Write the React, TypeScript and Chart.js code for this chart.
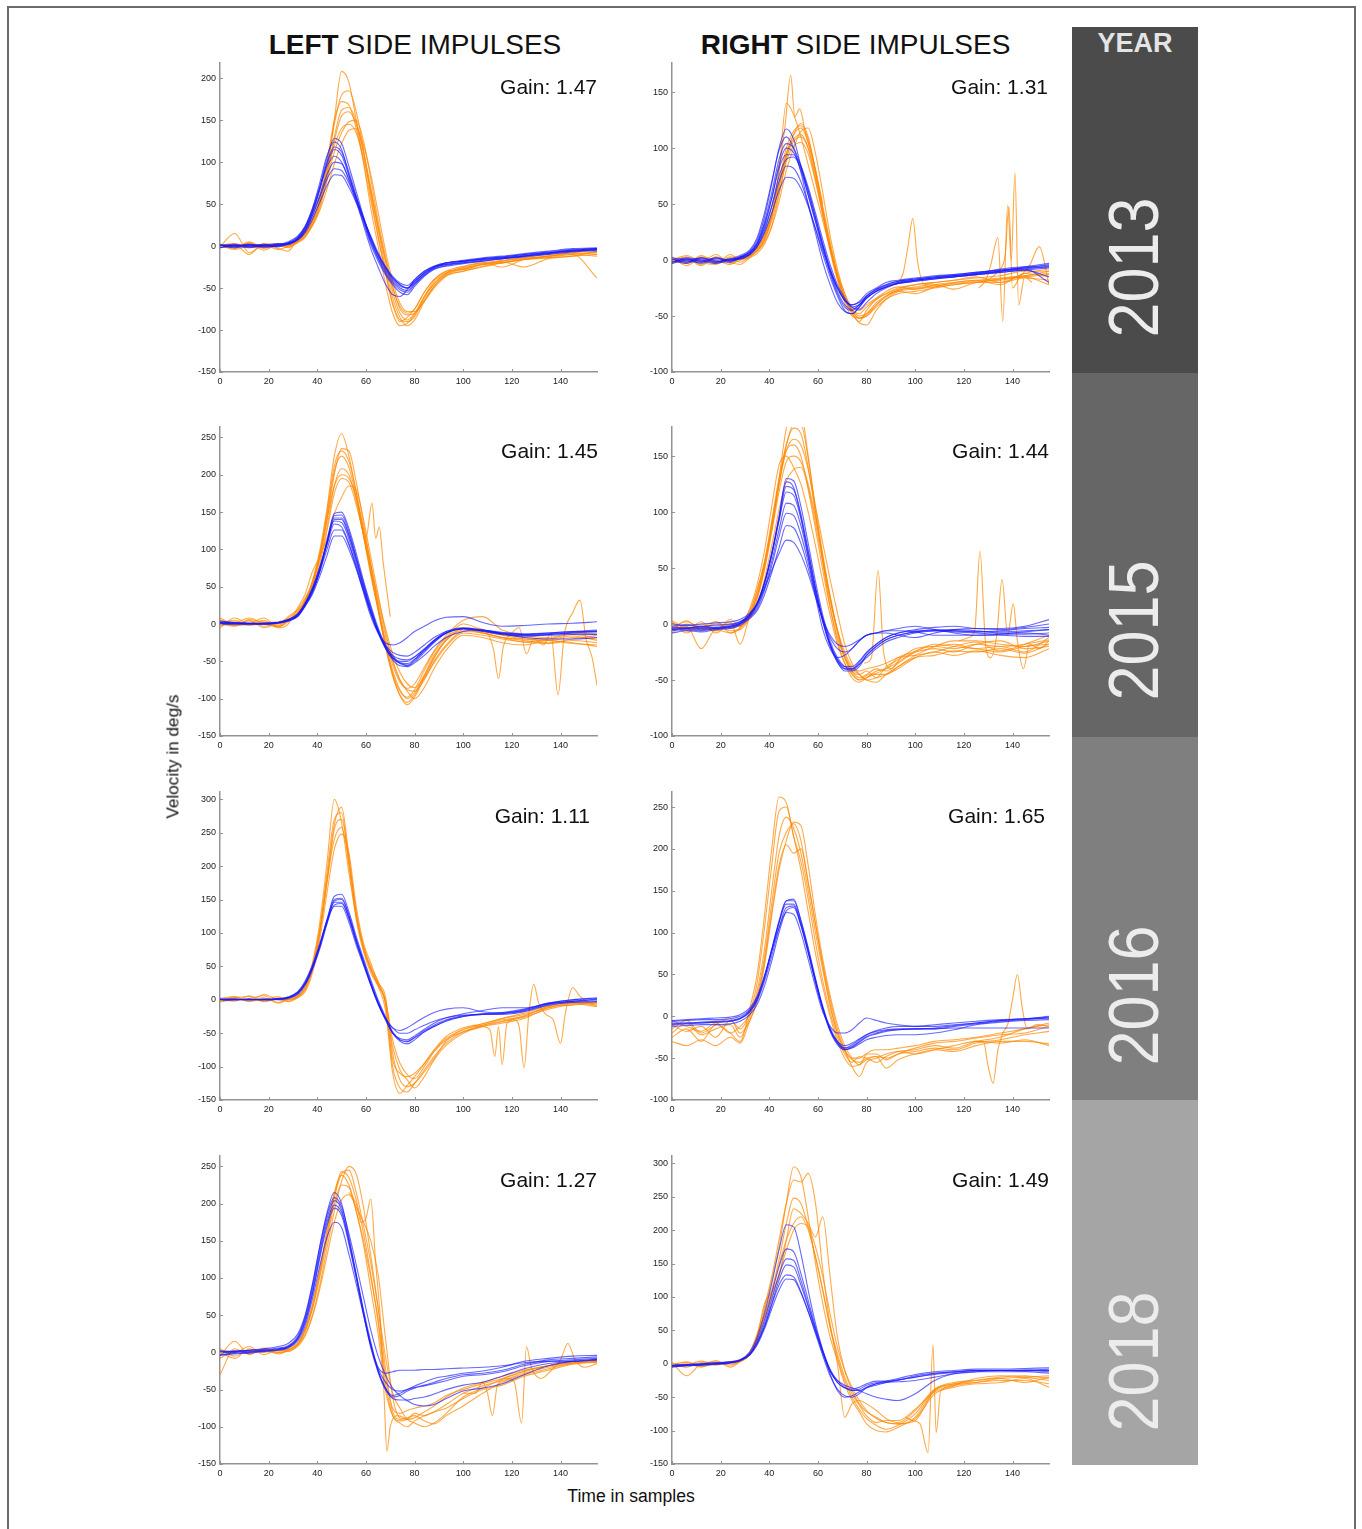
import React, { useEffect, useRef } from "react";
import { Chart, registerables } from "chart.js";

Chart.register(...registerables);

// ---------------- DATA ----------------
// Shared sample positions (time in samples) for the traces
const SAMPLE_X = [0, 6, 12, 18, 24, 28, 32, 35, 38, 41, 44, 47, 50, 53, 56, 59, 62, 65, 68, 71, 74, 77, 80, 84, 88, 93, 100, 108, 116, 125, 135, 145, 155];
const X_TICKS = [0, 20, 40, 60, 80, 100, 120, 140];
const X_MAX = 155;

const YEARS = ["2013", "2015", "2016", "2018"];
const GAINS_LEFT = ["1.47", "1.45", "1.11", "1.27"];
const GAINS_RIGHT = ["1.31", "1.44", "1.65", "1.49"];

const Y_TICKS_150_200 = [-150, -100, -50, 0, 50, 100, 150, 200];
const Y_TICKS_100_150 = [-100, -50, 0, 50, 100, 150];
const Y_TICKS_150_250 = [-150, -100, -50, 0, 50, 100, 150, 200, 250];
const Y_TICKS_150_300 = [-150, -100, -50, 0, 50, 100, 150, 200, 250, 300];
const Y_TICKS_100_250 = [-100, -50, 0, 50, 100, 150, 200, 250];

// ---- 2013 left ----
const L2013_BLUE = [
  [1, -1, 2, 0, 1, 4, 10, 22, 42, 70, 105, 128, 122, 95, 65, 35, 8, -12, -28, -40, -48, -50, -42, -33, -26, -22, -19, -16, -14, -11, -8, -6, -4],
  [-2, 1, 0, 2, -1, 3, 9, 20, 40, 68, 100, 118, 112, 88, 60, 32, 6, -14, -30, -42, -50, -53, -45, -35, -27, -24, -21, -18, -15, -12, -9, -5, -6],
  [0, 2, -1, 1, 2, 5, 12, 24, 44, 70, 95, 107, 100, 78, 52, 28, 2, -18, -34, -46, -55, -58, -48, -36, -28, -23, -20, -17, -15, -13, -10, -7, -5],
  [1, 0, 1, -1, 0, 3, 8, 18, 36, 60, 85, 100, 98, 80, 58, 34, 10, -10, -25, -38, -46, -50, -44, -32, -25, -21, -18, -15, -13, -10, -7, -4, -3],
  [-1, 0, 2, 1, 0, 2, 7, 16, 32, 52, 72, 85, 84, 70, 52, 32, 12, -8, -24, -36, -44, -47, -40, -30, -24, -20, -18, -16, -14, -12, -9, -6, -4],
  [0, -2, 1, 0, 2, 4, 11, 23, 45, 75, 108, 124, 115, 85, 55, 25, -3, -25, -45, -58, -60, -52, -40, -30, -24, -20, -18, -15, -13, -10, -8, -5, -3],
  [2, 0, -2, 1, 3, 2, 9, 20, 40, 66, 98, 115, 108, 84, 58, 31, 5, -15, -32, -44, -52, -55, -46, -34, -26, -20, -17, -14, -12, -9, -6, -3, -2],
  [-1, 1, 0, -1, 1, 3, 8, 18, 36, 58, 80, 92, 90, 75, 55, 33, 10, -10, -26, -38, -46, -50, -42, -32, -25, -22, -20, -18, -15, -12, -8, -5, -3],
];
const L2013_ORANGE = [
  [2, -3, 5, -2, 0, 3, 6, 15, 28, 50, 88, 150, 208, 195, 150, 100, 45, 0, -45, -80, -95, -92, -82, -60, -45, -32, -26, -22, -18, -15, -12, -10, -38],
  [-1, 15, -8, 2, -4, 0, 8, 18, 32, 55, 95, 145, 180, 185, 160, 115, 60, 12, -30, -68, -88, -90, -84, -62, -45, -33, -27, -21, -18, -14, -10, -9, -8],
  [0, 2, -10, 3, 1, -2, 5, 12, 30, 55, 100, 150, 172, 168, 140, 100, 55, 10, -32, -70, -90, -85, -75, -55, -40, -30, -24, -20, -25, -16, -12, -8, -10],
  [-2, 0, 3, -5, 2, 0, 4, 10, 25, 45, 80, 125, 155, 160, 145, 112, 70, 25, -18, -55, -80, -88, -80, -60, -42, -32, -25, -20, -17, -14, -13, -6, -8],
  [1, -4, 0, 2, -3, -6, 10, 22, 40, 60, 90, 120, 140, 145, 135, 105, 65, 22, -15, -50, -72, -80, -75, -55, -40, -30, -28, -22, -19, -25, -15, -12, -6],
  [0, 2, -2, 0, 3, 1, 6, 14, 26, 48, 78, 112, 135, 148, 150, 125, 80, 30, -12, -48, -75, -82, -80, -65, -48, -35, -30, -24, -20, -16, -14, -10, -12],
  [0, -2, 4, -3, 1, 2, 7, 16, 30, 52, 86, 130, 162, 165, 148, 112, 65, 20, -25, -62, -85, -95, -88, -66, -48, -34, -28, -22, -20, -16, -12, -8, -4],
  [1, 3, -1, -2, 2, -1, 5, 12, 24, 42, 68, 98, 122, 138, 140, 120, 85, 40, -5, -42, -68, -78, -78, -66, -50, -36, -30, -25, -20, -16, -14, -12, -10],
];
const L2013_SPIKES: number[][][] = [];

// ---- 2013 right ----
const R2013_BLUE = [
  [-2, 1, -3, 2, 0, 3, 8, 18, 38, 68, 100, 117, 108, 84, 58, 34, 10, -12, -30, -42, -45, -40, -32, -26, -22, -19, -17, -15, -14, -12, -8, -6, -5],
  [1, -2, 2, -1, -2, 2, 6, 14, 30, 55, 85, 100, 96, 80, 58, 35, 12, -10, -28, -40, -44, -40, -33, -27, -23, -20, -18, -16, -14, -12, -10, -8, -20],
  [-3, 0, 1, -2, 1, 1, 5, 12, 26, 48, 75, 90, 92, 82, 62, 38, 14, -8, -24, -36, -40, -38, -32, -26, -22, -19, -17, -15, -13, -11, -9, -7, -4],
  [0, -1, -2, 1, -1, 2, 6, 14, 28, 48, 70, 84, 82, 70, 50, 28, 5, -15, -32, -45, -48, -42, -34, -28, -24, -21, -19, -17, -15, -13, -10, -6, -3],
  [2, 0, -1, -3, 0, 1, 5, 12, 24, 42, 62, 74, 73, 64, 48, 28, 8, -10, -25, -36, -40, -37, -30, -25, -20, -18, -16, -14, -13, -11, -9, -7, -6],
  [-1, 2, 0, -2, 1, 4, 9, 20, 42, 70, 98, 110, 100, 78, 50, 24, -2, -22, -38, -46, -48, -42, -34, -28, -24, -20, -18, -16, -15, -13, -11, -9, -15],
  [0, -3, 2, -1, 1, 2, 7, 16, 34, 60, 90, 104, 100, 84, 62, 38, 14, -8, -25, -36, -42, -40, -34, -28, -24, -21, -18, -16, -14, -12, -10, -8, -6],
  [-2, 1, -1, 2, -1, 3, 7, 15, 32, 55, 82, 94, 94, 84, 65, 42, 18, -4, -22, -34, -42, -44, -38, -30, -25, -21, -19, -17, -15, -13, -11, -9, -7],
];
const R2013_ORANGE = [
  [3, -5, 2, -3, 5, 0, 3, 8, 18, 38, 80, 140, 130, 110, 85, 60, 35, 10, -15, -35, -48, -55, -45, -35, -30, -25, -22, -20, -18, -15, -20, -12, -8],
  [-2, 2, -5, 3, -2, -4, 2, 6, 14, 30, 58, 90, 112, 122, 110, 80, 45, 12, -15, -35, -45, -48, -42, -35, -30, -26, -22, -20, -18, -16, -14, -10, -10],
  [1, -3, 4, -2, 0, 3, 4, 10, 20, 38, 65, 95, 112, 118, 105, 78, 45, 14, -12, -30, -42, -45, -40, -34, -28, -24, -26, -22, -20, -18, -16, -14, -12],
  [-3, 0, -2, 5, -3, 0, 5, 12, 24, 42, 68, 95, 108, 112, 100, 72, 40, 8, -18, -38, -50, -52, -48, -38, -32, -28, -30, -24, -20, -18, -22, -12, -15],
  [0, 4, -2, -4, 2, -2, 3, 9, 18, 35, 60, 88, 102, 105, 95, 70, 40, 10, -15, -32, -44, -50, -48, -40, -33, -27, -24, -22, -26, -20, -18, -15, -22],
  [2, -2, 0, -3, 3, 2, 4, 8, 16, 30, 52, 80, 100, 115, 118, 95, 60, 22, -8, -30, -45, -52, -50, -42, -35, -30, -28, -25, -22, -20, -17, -14, -10],
  [0, 3, -4, 2, -1, 1, 3, 9, 20, 40, 70, 100, 115, 120, 108, 80, 48, 16, -12, -34, -46, -52, -50, -40, -32, -27, -25, -23, -21, -19, -17, -15, -13],
  [-1, -2, 3, 0, -4, 2, 5, 11, 22, 40, 66, 92, 106, 110, 100, 75, 42, 12, -14, -34, -47, -56, -58, -45, -35, -28, -26, -24, -22, -20, -20, -16, -18],
];
const R2013_SPIKES = [
  [[41, 40], [44, 80], [46.5, 120], [48.8, 165], [50.5, 128], [52.5, 135], [55, 112], [58, 90], [62, 50]],
  [[92, -22], [95, -12], [97, 12], [99, 37], [101, -2], [104, -22], [108, -20]],
  [[126, -25], [129, -18], [131, -5], [134, 20], [136, -55], [138, 49], [139.5, 0], [141, 78], [142.5, -40], [145, -15], [148, -20]],
  [[130, -18], [134, -10], [137, 5], [138.5, 48], [140, -25], [143, -15], [147, -5], [151, 12], [155, -22]],
];

// ---- 2015 left ----
const L2015_BLUE = [
  [2, 1, 0, 0, 1, 4, 11, 25, 45, 72, 112, 148, 150, 128, 95, 58, 25, -5, -28, -43, -52, -55, -48, -35, -22, -10, -5, -8, -12, -14, -12, -10, -8],
  [0, 0, 1, 0, 2, 5, 12, 26, 44, 72, 108, 142, 142, 120, 88, 52, 20, -8, -30, -45, -53, -56, -50, -38, -25, -12, -7, -10, -14, -16, -14, -12, -12],
  [3, 2, 1, 1, 2, 6, 13, 28, 48, 76, 110, 138, 136, 114, 82, 48, 15, -12, -32, -45, -50, -50, -44, -33, -22, -12, -6, -9, -12, -14, -13, -11, -9],
  [1, 0, 0, 1, 2, 5, 11, 24, 40, 64, 92, 118, 118, 100, 74, 44, 14, -10, -28, -38, -42, -43, -38, -28, -18, -10, -6, -9, -13, -16, -15, -14, -14],
  [4, 2, 1, 0, 2, 6, 14, 28, 48, 76, 106, 134, 130, 108, 76, 42, 10, -12, -25, -28, -25, -18, -10, -3, 4, 9, 10, 2, -3, -2, 0, 1, 3],
  [0, 0, 0, 0, 1, 4, 10, 24, 42, 70, 108, 145, 146, 124, 90, 55, 22, -8, -32, -48, -56, -57, -52, -42, -30, -18, -10, -8, -13, -18, -20, -20, -18],
  [1, 1, 0, 1, 2, 5, 12, 27, 46, 74, 110, 140, 140, 118, 86, 50, 18, -10, -32, -46, -52, -53, -47, -36, -24, -12, -6, -9, -13, -15, -14, -12, -10],
  [2, 1, 1, 0, 2, 5, 12, 26, 44, 70, 100, 126, 126, 106, 78, 46, 16, -10, -30, -42, -47, -48, -44, -34, -22, -12, -6, -8, -11, -13, -12, -10, -10],
];
const L2015_ORANGE = [
  [5, 2, 8, 0, -3, 5, 15, 30, 58, 98, 155, 225, 255, 225, 175, 120, 70, 20, -30, -70, -95, -105, -95, -70, -45, -20, -5, -10, -15, -20, -22, -18, -20],
  [-5, 8, 0, 3, -2, 10, 20, 35, 55, 90, 140, 200, 235, 232, 190, 135, 80, 25, -25, -62, -88, -100, -92, -68, -42, -22, -8, -12, -18, -22, -25, -20, -15],
  [3, -2, 5, -3, 0, 4, 12, 28, 52, 90, 145, 205, 225, 210, 170, 118, 65, 18, -28, -66, -90, -98, -88, -62, -38, -18, 0, -8, -14, -18, -20, -16, -22],
  [0, 5, -2, 2, 3, 8, 18, 32, 52, 85, 130, 185, 208, 200, 165, 118, 70, 22, -22, -55, -78, -86, -80, -58, -36, -15, 5, 10, -8, -15, -18, -12, -14],
  [8, 0, 4, -5, 2, 6, 14, 28, 48, 80, 125, 175, 195, 190, 160, 120, 78, 35, -5, -40, -65, -80, -85, -72, -52, -30, -12, -15, -20, -24, -26, -22, -25],
  [-3, 3, 0, 5, -5, 0, 22, 40, 70, 90, 115, 148, 170, 185, 180, 140, 90, 40, -10, -48, -75, -90, -100, -85, -60, -35, -15, -18, -25, -28, -22, -25, -30],
  [0, -3, 6, 2, -4, 3, 16, 32, 56, 94, 150, 212, 232, 218, 178, 125, 72, 20, -28, -68, -96, -108, -98, -72, -46, -22, -6, -12, -18, -24, -20, -14, -18],
  [4, -2, 0, 8, -4, 6, 15, 30, 55, 92, 140, 185, 200, 195, 170, 128, 80, 30, -15, -50, -75, -88, -90, -75, -50, -28, -10, -12, -18, -20, -22, -26, -28],
];
const L2015_SPIKES = [
  [[57, 150], [60, 115], [62.5, 162], [64, 115], [65.5, 130], [67, 85], [70, 10]],
  [[106, -5], [110, -12], [112.5, -35], [114.5, -73], [116.5, -30], [120, -12], [123, -5], [126, -40], [129, -20], [133, -28], [136, -12], [139, -95], [141.5, -15], [145, 15], [148, 32], [150.5, -20], [153, -45], [155, -82]],
];

// ---- 2015 right ----
const R2015_BLUE = [
  [-5, -4, -3, -4, -2, 1, 8, 18, 36, 62, 95, 130, 128, 105, 72, 38, 8, -15, -30, -38, -40, -36, -30, -22, -16, -12, -8, -6, -5, -6, -8, -8, -10],
  [-2, -1, -2, -1, 0, 2, 9, 19, 37, 62, 92, 118, 115, 94, 64, 32, 4, -18, -34, -42, -42, -38, -28, -20, -14, -10, -7, -5, -6, -7, -6, -4, -3],
  [-6, -5, -6, -4, -3, 0, 6, 14, 30, 52, 78, 99, 97, 80, 55, 28, 2, -18, -32, -38, -38, -33, -25, -18, -12, -8, -5, -3, -2, -4, -5, -3, 0],
  [0, -1, 0, 1, 2, 4, 10, 18, 32, 48, 63, 75, 73, 62, 45, 24, 4, -12, -22, -25, -22, -15, -10, -8, -8, -10, -12, -8, -5, -4, -4, -2, 4],
  [-3, -4, -2, -3, -1, 2, 8, 18, 37, 64, 96, 127, 122, 96, 60, 25, -5, -22, -30, -28, -22, -15, -10, -8, -6, -4, -2, -5, -8, -10, -9, -7, -5],
  [-8, -6, -7, -5, -4, -1, 5, 12, 26, 46, 68, 88, 86, 72, 50, 26, 5, -10, -18, -20, -18, -14, -10, -8, -6, -6, -7, -10, -10, -10, -10, -11, -11],
  [-4, -3, -4, -3, -2, 1, 8, 18, 36, 62, 93, 123, 120, 98, 66, 33, 4, -18, -32, -40, -41, -36, -28, -20, -14, -10, -7, -6, -6, -7, -7, -6, -5],
  [-5, -4, -5, -4, -3, 0, 7, 16, 32, 56, 84, 108, 106, 88, 60, 30, 2, -20, -34, -40, -40, -34, -26, -18, -12, -8, -6, -6, -7, -8, -9, -9, -8],
];
const R2015_ORANGE = [
  [-5, -2, -22, -5, -8, -3, 10, 30, 55, 90, 130, 175, 195, 190, 150, 100, 55, 15, -15, -35, -48, -52, -48, -45, -45, -38, -28, -20, -15, -15, -18, -20, -15],
  [2, -8, 0, -5, 2, -18, 8, 25, 52, 85, 125, 160, 175, 170, 140, 98, 58, 22, -8, -30, -42, -48, -45, -40, -42, -35, -25, -18, -20, -22, -25, -20, -18],
  [-5, 3, -6, 2, -4, 0, 12, 30, 55, 88, 125, 155, 160, 150, 120, 85, 48, 15, -12, -30, -42, -45, -42, -48, -38, -32, -22, -20, -18, -22, -20, -25, -12],
  [0, -6, 2, -8, 0, -2, 14, 35, 65, 105, 142, 150, 140, 125, 100, 70, 38, 8, -18, -35, -45, -50, -48, -42, -40, -30, -25, -22, -25, -18, -15, -22, -20],
  [-8, 0, -4, 0, -6, -5, 5, 18, 40, 70, 102, 128, 138, 140, 122, 90, 55, 22, -5, -25, -38, -42, -40, -38, -35, -30, -28, -25, -20, -16, -24, -18, -10],
  [3, -3, -2, -6, 4, -2, 8, 24, 50, 85, 125, 155, 165, 160, 138, 105, 72, 40, 10, -18, -35, -45, -50, -48, -45, -40, -30, -25, -28, -24, -28, -30, -22],
  [-3, 2, -4, -6, 0, -2, 9, 26, 54, 92, 130, 160, 178, 178, 148, 104, 62, 25, -6, -30, -44, -50, -46, -44, -40, -34, -24, -20, -22, -18, -20, -18, -14],
  [1, -6, -3, 2, -8, -4, 6, 22, 48, 82, 118, 145, 150, 145, 125, 95, 60, 25, -5, -28, -40, -45, -50, -52, -45, -38, -30, -28, -24, -25, -22, -26, -18],
];
const R2015_SPIKES = [
  [[79, -35], [82, -30], [84.7, 48], [87, -25], [90, -40], [94, -30]],
  [[118, -15], [122, -12], [124.5, -5], [126.6, 65], [129, -20], [131, -30], [133.5, -10], [135.7, 40], [138, -10], [140.3, 18], [142, -15], [144.5, -40], [147, -18], [151, -22], [155, -15]],
];

// ---- 2016 left ----
const L2016_BLUE = [
  [0, 0, 1, 0, 1, 3, 10, 24, 48, 80, 120, 155, 158, 132, 95, 62, 30, 0, -25, -48, -60, -63, -56, -46, -38, -30, -24, -21, -20, -16, -6, -2, 1],
  [1, 0, 0, 1, 0, 2, 8, 22, 45, 76, 114, 148, 150, 126, 90, 58, 26, -3, -28, -50, -62, -66, -60, -48, -40, -32, -25, -22, -21, -17, -7, -3, -2],
  [0, 1, 0, 0, 2, 4, 12, 28, 52, 84, 118, 140, 140, 116, 82, 52, 22, -6, -28, -42, -50, -50, -45, -38, -32, -27, -23, -22, -22, -18, -8, -4, -3],
  [-1, 0, 1, 0, 1, 4, 12, 26, 50, 82, 120, 150, 152, 127, 90, 56, 24, -6, -28, -42, -46, -42, -35, -26, -19, -14, -12, -18, -20, -15, -5, 0, 2],
  [0, 0, 0, 1, 1, 3, 10, 24, 48, 80, 117, 146, 146, 122, 86, 54, 22, -6, -30, -50, -58, -60, -54, -44, -35, -27, -21, -16, -12, -12, -5, 0, 3],
  [1, 1, 0, 0, 1, 3, 10, 25, 48, 79, 115, 142, 144, 122, 88, 56, 24, -4, -28, -50, -60, -62, -57, -48, -40, -31, -25, -21, -19, -14, -6, -2, 0],
];
const L2016_ORANGE = [
  [2, 5, -3, 8, 0, -2, 5, 20, 55, 115, 205, 300, 265, 190, 125, 75, 45, 22, -5, -100, -132, -138, -125, -105, -85, -65, -48, -40, -35, -28, -12, -5, -8],
  [0, 3, 5, -2, 3, 0, 4, 15, 45, 100, 180, 262, 288, 215, 130, 78, 48, 25, 5, -80, -120, -130, -125, -108, -88, -62, -45, -38, -30, -25, -10, -3, -5],
  [-3, 0, 2, 6, -4, 2, 8, 22, 52, 105, 178, 240, 258, 205, 130, 80, 50, 28, -5, -90, -110, -115, -110, -95, -75, -55, -42, -36, -28, -22, -12, -6, -10],
  [0, 2, -2, 0, 5, -3, 3, 12, 40, 90, 160, 225, 248, 220, 140, 85, 55, 25, 0, -60, -95, -112, -118, -100, -78, -60, -48, -38, -32, -24, -10, -8, -3],
  [1, -2, 6, -3, 2, 0, 6, 18, 48, 105, 190, 270, 280, 200, 120, 72, 40, 20, -15, -110, -140, -128, -115, -96, -76, -58, -44, -36, -28, -20, -9, -4, -6],
  [-2, 4, 0, 3, -5, 1, 5, 16, 46, 98, 175, 255, 270, 210, 128, 78, 45, 22, -2, -70, -105, -120, -132, -115, -90, -68, -50, -40, -33, -26, -14, -7, -4],
];
const L2016_SPIKES = [
  [[104, -38], [108, -40], [111, -45], [113, -85], [114.5, -40], [116, -97], [118, -35], [121, -30], [123, -40], [125, -102], [127, -20], [129, 23], [131, -5], [134, -22], [137, -30], [140, -65], [142, -20], [145, 18], [148, 5], [152, -5], [155, -10]],
];

// ---- 2016 right ----
const R2016_BLUE = [
  [-10, -9, -8, -7, -6, -3, 6, 20, 45, 78, 112, 138, 140, 115, 82, 45, 12, -14, -30, -38, -36, -30, -24, -20, -17, -16, -15, -15, -12, -9, -6, -4, -2],
  [-6, -5, -4, -4, -3, 0, 8, 22, 48, 80, 112, 134, 134, 110, 76, 40, 8, -18, -34, -40, -37, -31, -25, -21, -18, -16, -15, -14, -11, -8, -5, -3, -1],
  [-12, -11, -10, -10, -9, -6, 2, 14, 36, 66, 100, 126, 130, 108, 76, 42, 10, -16, -30, -35, -32, -27, -22, -18, -16, -15, -15, -15, -14, -14, -14, -14, -14],
  [-5, -4, -3, -2, -1, 2, 10, 24, 48, 78, 106, 124, 122, 100, 68, 35, 5, -12, -20, -20, -16, -8, -2, -5, -8, -10, -12, -12, -10, -8, -5, -3, 0],
  [-8, -8, -7, -6, -5, -2, 7, 21, 46, 80, 114, 138, 138, 114, 80, 44, 10, -16, -32, -40, -38, -33, -28, -25, -23, -22, -22, -20, -16, -10, -7, -5, -4],
  [-9, -8, -8, -7, -6, -3, 5, 18, 42, 72, 105, 130, 132, 110, 78, 42, 9, -16, -32, -38, -34, -28, -22, -17, -14, -12, -12, -10, -8, -6, -4, -3, -2],
];
const R2016_ORANGE = [
  [-25, -15, -30, -10, -20, -30, 10, 50, 120, 200, 262, 255, 215, 175, 125, 75, 35, 0, -30, -50, -60, -58, -52, -48, -50, -45, -42, -38, -40, -32, -28, -22, -18],
  [-10, -18, -12, -25, -5, -15, 5, 40, 105, 180, 245, 250, 215, 185, 140, 88, 42, 5, -25, -45, -55, -48, -50, -55, -48, -42, -40, -35, -38, -30, -25, -15, -10],
  [-20, -8, -22, -15, -10, -25, 0, 30, 80, 150, 215, 238, 225, 195, 150, 100, 55, 12, -20, -40, -50, -50, -45, -45, -52, -45, -38, -32, -30, -26, -22, -20, -12],
  [-5, -12, -18, -8, -20, -12, 2, 25, 70, 135, 195, 220, 230, 210, 160, 110, 62, 20, -15, -40, -60, -72, -55, -50, -45, -42, -45, -40, -35, -30, -32, -28, -35],
  [-30, -35, -28, -35, -25, -32, -5, 20, 65, 125, 180, 205, 195, 200, 160, 110, 60, 15, -20, -42, -52, -55, -50, -48, -62, -52, -45, -40, -42, -35, -30, -30, -33],
  [-15, -5, -20, -10, -3, -20, -5, 18, 60, 120, 175, 210, 232, 228, 180, 120, 68, 25, -10, -35, -50, -58, -45, -40, -40, -38, -35, -30, -28, -25, -20, -15, -8],
];
const R2016_SPIKES = [
  [[124, -30], [128, -30], [130, -60], [132, -80], [134, -40], [136, -20], [138, -10], [140, 20], [142, 50], [144, 10], [146, -15], [150, -10], [155, -12]],
];

// ---- 2018 left ----
const L2018_BLUE = [
  [2, 1, 3, 4, 6, 9, 22, 48, 90, 142, 188, 215, 200, 155, 105, 55, 10, -26, -50, -60, -58, -52, -48, -45, -42, -38, -32, -30, -26, -18, -12, -10, -8],
  [0, 1, 2, 3, 5, 8, 20, 45, 85, 135, 180, 204, 192, 150, 102, 52, 6, -26, -48, -58, -55, -50, -47, -44, -40, -35, -30, -28, -24, -16, -10, -8, -6],
  [-3, -1, 0, 2, 4, 7, 18, 40, 78, 126, 170, 194, 184, 145, 100, 52, 10, -20, -28, -26, -24, -24, -24, -23, -23, -22, -21, -20, -18, -14, -12, -12, -10],
  [-4, -2, -1, 1, 3, 6, 16, 36, 72, 116, 155, 175, 168, 132, 92, 50, 8, -22, -40, -50, -52, -50, -45, -40, -35, -32, -28, -25, -20, -12, -8, -5, -4],
  [1, 2, 3, 5, 8, 12, 25, 50, 92, 142, 185, 208, 196, 160, 118, 74, 30, -5, -30, -48, -58, -65, -70, -72, -70, -62, -52, -48, -42, -30, -18, -12, -10],
  [0, 0, 1, 2, 4, 7, 19, 42, 80, 130, 175, 198, 188, 150, 105, 57, 14, -24, -48, -62, -64, -64, -62, -60, -56, -50, -44, -40, -32, -22, -15, -12, -9],
];
const L2018_ORANGE = [
  [5, -5, 3, 2, 0, 3, 10, 24, 50, 90, 140, 190, 230, 250, 240, 195, 130, 60, -20, -80, -90, -88, -85, -92, -96, -85, -72, -55, -40, -30, -22, -15, -12],
  [-5, 15, -3, 5, 2, 5, 14, 32, 65, 110, 160, 210, 243, 235, 205, 160, 105, 40, -40, -85, -95, -100, -92, -85, -80, -70, -55, -45, -38, -28, -20, -15, -10],
  [0, -8, 5, 0, 3, 4, 12, 30, 60, 108, 165, 215, 238, 225, 190, 150, 100, 45, -30, -75, -82, -78, -75, -72, -68, -58, -50, -42, -35, -25, -18, -12, -14],
  [-30, 5, -2, 6, 0, 2, 8, 22, 48, 85, 130, 175, 205, 212, 195, 175, 150, 105, 20, -60, -88, -90, -88, -80, -72, -60, -48, -40, -32, -24, -18, -14, -12],
  [3, 0, 8, -3, 4, 1, 10, 28, 58, 100, 150, 200, 225, 222, 190, 145, 85, 25, -50, -85, -92, -90, -82, -85, -80, -75, -62, -50, -44, -32, -24, -16, -13],
  [-8, 2, 0, 3, -2, 3, 12, 30, 62, 105, 155, 208, 240, 245, 215, 170, 120, 60, -5, -55, -75, -90, -95, -100, -95, -82, -60, -48, -36, -26, -18, -14, -10],
];
const L2018_SPIKES = [
  [[53, 215], [56, 200], [58, 175], [60, 180], [62, 206], [64, 120], [66, 40], [67.5, -60], [68.6, -133], [70, -100], [73, -85], [77, -90]],
  [[100, -55], [105, -55], [108, -40], [110, -55], [112, -85], [114, -45], [118, -35], [121, -40], [124, -95], [126, 8], [128, -20], [132, -35], [136, -25], [140, -10], [143, 12], [146, -10], [150, -20], [155, -15]],
];

// ---- 2018 right ----
const R2018_BLUE = [
  [-2, -1, 0, 1, 3, 6, 18, 40, 75, 120, 170, 208, 205, 165, 110, 60, 20, -15, -40, -50, -48, -42, -35, -30, -28, -27, -25, -20, -15, -12, -10, -10, -8],
  [-4, -3, -2, -1, 1, 5, 15, 35, 65, 105, 145, 172, 168, 135, 95, 55, 20, -10, -28, -36, -38, -35, -30, -26, -26, -24, -20, -16, -13, -10, -10, -9, -12],
  [-3, -2, -1, 0, 2, 5, 14, 32, 60, 96, 133, 157, 155, 125, 88, 52, 18, -10, -28, -36, -40, -38, -32, -28, -27, -25, -18, -14, -12, -10, -10, -10, -10],
  [-5, -3, -2, 0, 2, 5, 14, 30, 56, 90, 125, 148, 145, 118, 85, 50, 15, -12, -25, -32, -36, -40, -45, -50, -53, -55, -45, -25, -15, -12, -12, -12, -14],
  [-2, -1, 0, 2, 3, 6, 15, 32, 55, 88, 118, 133, 130, 108, 78, 45, 12, -18, -38, -48, -50, -45, -36, -30, -26, -22, -16, -12, -10, -8, -8, -7, -6],
  [-3, -2, -1, 0, 2, 5, 13, 28, 52, 82, 110, 127, 126, 106, 78, 48, 18, -8, -25, -35, -40, -40, -36, -32, -28, -24, -20, -15, -12, -10, -10, -11, -10],
];
const R2018_ORANGE = [
  [-3, 0, -5, 2, 0, 4, 16, 40, 80, 125, 175, 240, 295, 280, 220, 150, 90, 40, 5, -30, -55, -72, -90, -100, -102, -95, -80, -40, -30, -28, -25, -25, -30],
  [0, -5, 2, -2, 3, 5, 18, 45, 85, 130, 185, 240, 275, 272, 285, 240, 140, 60, 10, -25, -50, -68, -82, -92, -98, -92, -75, -38, -28, -25, -22, -28, -20],
  [-5, -2, 4, -1, 2, 3, 15, 38, 72, 110, 155, 210, 248, 240, 205, 160, 110, 55, 15, -20, -45, -62, -78, -88, -85, -85, -68, -42, -32, -22, -18, -20, -25],
  [2, -18, 0, 3, -2, 4, 14, 40, 90, 108, 130, 185, 232, 225, 210, 190, 220, 130, 40, -10, -40, -60, -72, -80, -88, -90, -82, -45, -35, -30, -28, -22, -35],
  [-2, 3, -4, 0, 3, 4, 15, 38, 70, 108, 148, 185, 210, 220, 200, 160, 110, 55, 0, -80, -60, -55, -60, -70, -82, -88, -70, -38, -30, -25, -20, -18, -22],
  [0, 2, -3, 5, -5, 3, 14, 36, 68, 100, 135, 170, 200, 210, 205, 175, 130, 75, 25, -10, -35, -55, -70, -82, -88, -90, -85, -40, -32, -28, -22, -20, -18],
];
const R2018_SPIKES = [
  [[96, -80], [99, -85], [102, -90], [105.3, -133], [107.3, 28], [108.6, -103], [110.5, -40], [114, -35], [118, -30]],
];

// ---------------- LAYOUT ----------------
const PLOT_LEFT = [220, 672];
const PLOT_RIGHT = [597, 1049];
const PLOT_TOP = [63, 427, 792, 1156];
const PLOT_BOTTOM = [372, 736, 1100, 1464];
const YW = 45; // y-axis band width
const PT = 10; // top padding
const PR = 6; // right padding
const XH = 22; // x-axis band height

const ORANGE = "rgba(255,136,0,0.72)";
const BLUE = "rgba(24,24,255,0.66)";
const AXIS = "#939393";
const FONT = '"Liberation Sans", Arial, Helvetica, sans-serif';

type PanelCfg = {
  col: number;
  row: number;
  yMin: number;
  yMax: number;
  yTicks: number[];
  orange: number[][];
  blue: number[][];
  spikes: number[][][];
};

const PANELS: PanelCfg[] = [
  { col: 0, row: 0, yMin: -150, yMax: 218, yTicks: Y_TICKS_150_200, orange: L2013_ORANGE, blue: L2013_BLUE, spikes: L2013_SPIKES },
  { col: 1, row: 0, yMin: -100, yMax: 176, yTicks: Y_TICKS_100_150, orange: R2013_ORANGE, blue: R2013_BLUE, spikes: R2013_SPIKES },
  { col: 0, row: 1, yMin: -150, yMax: 264, yTicks: Y_TICKS_150_250, orange: L2015_ORANGE, blue: L2015_BLUE, spikes: L2015_SPIKES },
  { col: 1, row: 1, yMin: -100, yMax: 176, yTicks: Y_TICKS_100_150, orange: R2015_ORANGE, blue: R2015_BLUE, spikes: R2015_SPIKES },
  { col: 0, row: 2, yMin: -150, yMax: 311, yTicks: Y_TICKS_150_300, orange: L2016_ORANGE, blue: L2016_BLUE, spikes: L2016_SPIKES },
  { col: 1, row: 2, yMin: -100, yMax: 268, yTicks: Y_TICKS_100_250, orange: R2016_ORANGE, blue: R2016_BLUE, spikes: R2016_SPIKES },
  { col: 0, row: 3, yMin: -150, yMax: 264, yTicks: Y_TICKS_150_250, orange: L2018_ORANGE, blue: L2018_BLUE, spikes: L2018_SPIKES },
  { col: 1, row: 3, yMin: -150, yMax: 311, yTicks: Y_TICKS_150_300, orange: R2018_ORANGE, blue: R2018_BLUE, spikes: R2018_SPIKES },
];

const toPts = (ys: number[]) =>
  ys.slice(0, SAMPLE_X.length).map((y, i) => ({ x: SAMPLE_X[i], y }));
const pairPts = (pairs: number[][]) => pairs.map((p) => ({ x: p[0], y: p[1] }));

const innerTicks = {
  id: "innerTicks",
  afterDraw(chart: any) {
    const { ctx, chartArea: a, scales } = chart;
    const x = scales.x;
    const y = scales.y;
    ctx.save();
    ctx.strokeStyle = AXIS;
    ctx.lineWidth = 1;
    ctx.beginPath();
    x.ticks.forEach((t: any) => {
      const px = Math.round(x.getPixelForValue(t.value)) + 0.5;
      ctx.moveTo(px, a.bottom);
      ctx.lineTo(px, a.bottom - 3);
    });
    y.ticks.forEach((t: any) => {
      const py = Math.round(y.getPixelForValue(t.value)) + 0.5;
      ctx.moveTo(a.left, py);
      ctx.lineTo(a.left + 3, py);
    });
    ctx.stroke();
    ctx.restore();
  },
};

function Panel({ cfg }: { cfg: PanelCfg }) {
  const ref = useRef<HTMLCanvasElement>(null);
  const left = PLOT_LEFT[cfg.col] - YW;
  const top = PLOT_TOP[cfg.row] - PT;
  const w = PLOT_RIGHT[cfg.col] - PLOT_LEFT[cfg.col] + YW + PR;
  const h = PLOT_BOTTOM[cfg.row] - PLOT_TOP[cfg.row] + PT + XH;

  useEffect(() => {
    if (!ref.current) return;
    const line = (data: any[], color: string) => ({
      data,
      borderColor: color,
      borderWidth: 1.1,
      pointRadius: 0,
      fill: false,
      cubicInterpolationMode: "monotone" as const,
    });
    // lower index draws on top: blue first
    const datasets = [
      ...cfg.blue.map((ys) => line(toPts(ys), BLUE)),
      ...cfg.spikes.map((ps) => line(pairPts(ps), ORANGE)),
      ...cfg.orange.map((ys) => line(toPts(ys), ORANGE)),
    ];
    const tickFont = { family: FONT, size: 9 };
    const chart = new Chart(ref.current, {
      type: "line",
      data: { datasets },
      options: {
        animation: false,
        responsive: false,
        maintainAspectRatio: false,
        events: [],
        layout: { padding: { top: PT, right: PR, left: 0, bottom: 0 } },
        plugins: { legend: { display: false }, tooltip: { enabled: false } },
        scales: {
          x: {
            type: "linear",
            min: 0,
            max: X_MAX,
            afterBuildTicks: (s: any) => {
              s.ticks = X_TICKS.map((v) => ({ value: v }));
            },
            afterFit: (s: any) => {
              s.height = XH;
              s.paddingLeft = 0;
              s.paddingRight = 0;
            },
            grid: { display: true, drawOnChartArea: false, drawTicks: false },
            border: { display: true, color: AXIS, width: 1.5 },
            ticks: { font: tickFont, color: "#222", padding: 4, maxRotation: 0, autoSkip: false },
          },
          y: {
            type: "linear",
            min: cfg.yMin,
            max: cfg.yMax,
            afterBuildTicks: (s: any) => {
              s.ticks = cfg.yTicks.map((v) => ({ value: v }));
            },
            afterFit: (s: any) => {
              s.width = YW;
              s.paddingTop = 0;
              s.paddingBottom = 0;
            },
            grid: { display: true, drawOnChartArea: false, drawTicks: false },
            border: { display: true, color: AXIS, width: 1.5 },
            ticks: { font: tickFont, color: "#222", padding: 4, autoSkip: false },
          },
        },
      },
      plugins: [innerTicks],
    } as any);
    return () => chart.destroy();
  }, []);

  return (
    <canvas
      ref={ref}
      width={w}
      height={h}
      style={{ position: "absolute", left, top, width: w, height: h }}
    />
  );
}

function Txt(props: {
  x: number;
  baseline: number;
  size: number;
  align: "left" | "center" | "right";
  color?: string;
  weight?: number | string;
  children: React.ReactNode;
}) {
  const { x, baseline, size, align, color = "#111", weight = 400, children } = props;
  const top = baseline - 0.8465 * size;
  const style: React.CSSProperties = {
    position: "absolute",
    top,
    fontSize: size,
    lineHeight: 1,
    color,
    fontWeight: weight as any,
    whiteSpace: "nowrap",
    fontFamily: FONT,
  };
  if (align === "left") style.left = x;
  if (align === "right") {
    style.left = x - 400;
    style.width = 400;
    style.textAlign = "right";
  }
  if (align === "center") {
    style.left = x - 400;
    style.width = 800;
    style.textAlign = "center";
  }
  return <div style={style}>{children}</div>;
}

const GAIN_RIGHT = [
  [597, 1048],
  [598, 1049],
  [590, 1045],
  [597, 1049],
];
const GAIN_BASELINE = [94, 458, 823, 1187];
const YEAR_BANDS = [
  { top: 27, bottom: 373, color: "#4b4b4b", textY: 267 },
  { top: 373, bottom: 737, color: "#666666", textY: 630 },
  { top: 737, bottom: 1100, color: "#7f7f7f", textY: 995 },
  { top: 1100, bottom: 1465, color: "#a5a5a5", textY: 1361 },
];

export default function App() {
  return (
    <div
      style={{
        position: "absolute",
        left: 0,
        top: 0,
        width: 1362,
        height: 1529,
        overflow: "hidden",
        background: "#fff",
        fontFamily: FONT,
      }}
    >
      {/* outer frame */}
      <div
        style={{
          position: "absolute",
          left: 7,
          top: 6,
          width: 1349,
          height: 1600,
          border: "2px solid #6b6b6b",
          boxSizing: "border-box",
        }}
      />

      {/* column titles */}
      <Txt x={415} baseline={55} size={28} align="center">
        <b>LEFT</b> SIDE IMPULSES
      </Txt>
      <Txt x={855.5} baseline={55} size={28} align="center">
        <b>RIGHT</b> SIDE IMPULSES
      </Txt>

      {/* year band */}
      {YEAR_BANDS.map((b, i) => (
        <div
          key={"band" + i}
          style={{
            position: "absolute",
            left: 1072,
            top: b.top,
            width: 126,
            height: b.bottom - b.top,
            background: b.color,
          }}
        />
      ))}
      <Txt x={1135} baseline={53} size={27} align="center" color="#e4e4e4" weight={700}>
        YEAR
      </Txt>
      {YEAR_BANDS.map((b, i) => (
        <div
          key={"yr" + i}
          style={{
            position: "absolute",
            left: 1133.5 - 100,
            top: b.textY - 31.5,
            width: 200,
            height: 63,
            fontSize: 63,
            lineHeight: 1,
            textAlign: "center",
            color: "#ececec",
            fontFamily: FONT,
            transform: "rotate(-90deg) scale(1, 1.13)",
            transformOrigin: "50% 50%",
          }}
        >
          {YEARS[i]}
        </div>
      ))}

      {/* panels */}
      {PANELS.map((p, i) => (
        <Panel key={i} cfg={p} />
      ))}

      {/* gain labels */}
      {GAINS_LEFT.map((g, r) => (
        <Txt key={"gl" + r} x={GAIN_RIGHT[r][0]} baseline={GAIN_BASELINE[r]} size={21} align="right">
          {"Gain: " + g}
        </Txt>
      ))}
      {GAINS_RIGHT.map((g, r) => (
        <Txt key={"gr" + r} x={GAIN_RIGHT[r][1]} baseline={GAIN_BASELINE[r]} size={21} align="right">
          {"Gain: " + g}
        </Txt>
      ))}

      {/* axis titles */}
      <div
        style={{
          position: "absolute",
          left: 173 - 150,
          top: 757 - 8.6,
          width: 300,
          height: 17.2,
          fontSize: 17.2,
          lineHeight: 1,
          textAlign: "center",
          color: "#111",
          whiteSpace: "nowrap",
          fontFamily: FONT,
          transform: "rotate(-90deg)",
          transformOrigin: "50% 50%",
        }}
      >
        Velocity in deg/s
      </div>
      <Txt x={631} baseline={1503} size={17.6} align="center">
        Time in samples
      </Txt>
    </div>
  );
}
